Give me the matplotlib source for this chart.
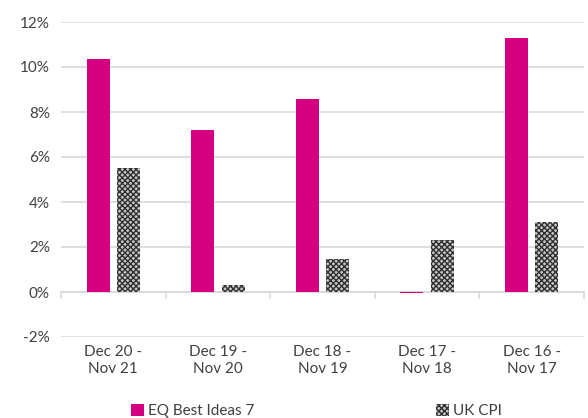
import matplotlib.pyplot as plt
import numpy as np

plt.rcParams['font.family'] = ['Lato', 'DejaVu Sans']
plt.rcParams['hatch.linewidth'] = 1.0

# данные
periods = ['Dec 20 -\nNov 21', 'Dec 19 -\nNov 20', 'Dec 18 -\nNov 19',
           'Dec 17 -\nNov 18', 'Dec 16 -\nNov 17']
eq_best = [10.35, 7.2, 8.6, -0.05, 11.3]
uk_cpi = [5.5, 0.3, 1.45, 2.3, 3.1]
yticks = [-2, 0, 2, 4, 6, 8, 10, 12]

MAGENTA = '#D4007F'
TEXT = '#404040'
GRID = '#D9D9D9'

fig = plt.figure(figsize=(5.88, 4.18), dpi=100)
ax = fig.add_axes([61 / 588, 81 / 418, 523 / 588, 315 / 418])

x = np.arange(len(periods))
w = 0.22
off = 0.146
ax.bar(x - off, eq_best, w, color=MAGENTA, label='EQ Best Ideas 7', zorder=3)
ax.bar(x + off, uk_cpi, w, color='#C8C8C8', edgecolor='#303030', hatch='xxxxxx',
       linewidth=0, label='UK CPI', zorder=3)

ax.set_xlim(-0.5, len(periods) - 0.5)
ax.set_ylim(-2, 12)
ax.set_yticks(yticks)
ax.set_yticklabels([f'{v}%' for v in yticks])
ax.yaxis.grid(True, color=GRID, linewidth=1.2, zorder=0)
ax.set_axisbelow(True)

# нулевая линия и засечки между категориями
ax.axhline(0, color=GRID, linewidth=1.2, zorder=2)
for b in np.arange(len(periods) + 1) - 0.5:
    ax.plot([b, b], [0, -0.25], color=GRID, linewidth=1.2, zorder=2, clip_on=False)

ax.set_xticks(x)
ax.set_xticklabels(periods)
ax.tick_params(axis='x', length=0, pad=6, labelsize=11, colors=TEXT)
ax.tick_params(axis='y', length=0, pad=8, labelsize=11, colors=TEXT)
for s in ax.spines.values():
    s.set_visible(False)

leg = ax.legend(loc='upper center', bbox_to_anchor=(0.489, -0.17), ncol=2,
                frameon=False, fontsize=11, handlelength=0.8, handleheight=0.8,
                handletextpad=0.3, columnspacing=11.9)
for t in leg.get_texts():
    t.set_color(TEXT)

plt.savefig('out.png', dpi=100)
